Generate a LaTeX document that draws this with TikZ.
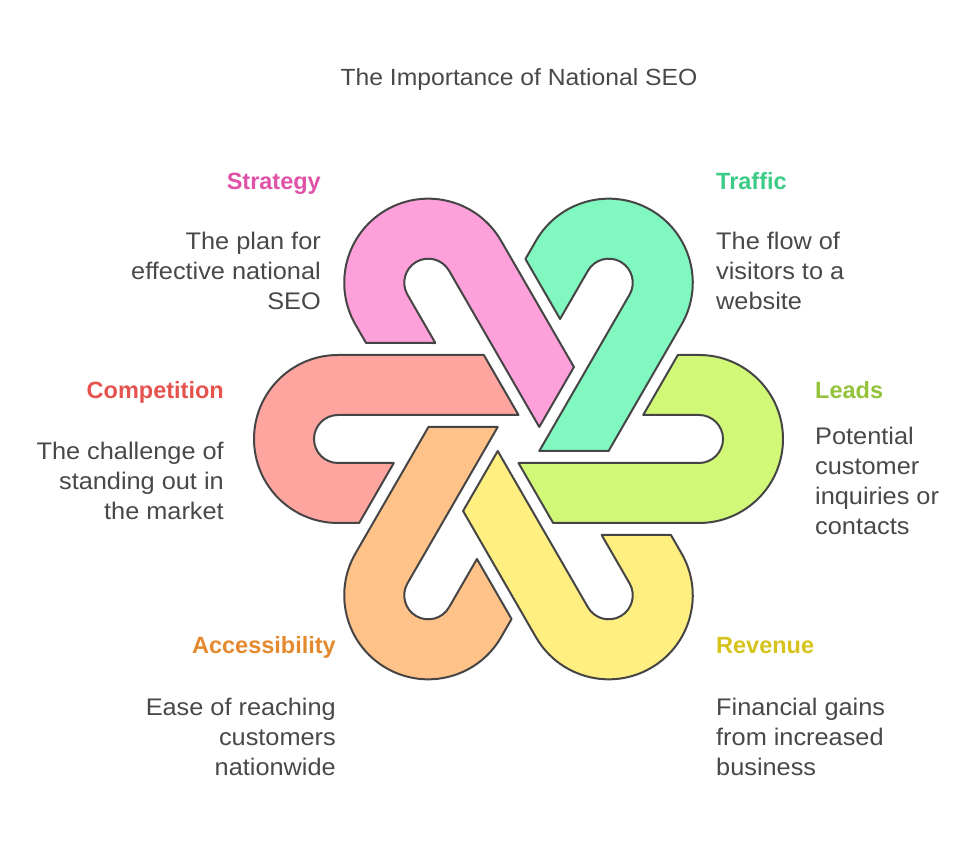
\documentclass[tikz,border=0pt]{standalone}
\usepackage{fontspec}
\setmainfont{Liberation Sans}
\newfontfamily\bodyfont[FakeStretch=1.055]{Liberation Sans}
\definecolor{edgegray}{HTML}{454545}
\definecolor{txtgray}{HTML}{484848}
\definecolor{pinkF}{HTML}{FEA0DA}
\definecolor{tealF}{HTML}{80F8C0}
\definecolor{redF}{HTML}{FFA5A0}
\definecolor{limeF}{HTML}{D2F878}
\definecolor{yellowF}{HTML}{FFEE80}
\definecolor{orangeF}{HTML}{FFC288}
\definecolor{pinkT}{HTML}{E052A8}
\definecolor{tealT}{HTML}{3CCB86}
\definecolor{redT}{HTML}{E5534F}
\definecolor{limeT}{HTML}{94C33B}
\definecolor{orangeT}{HTML}{E5892F}
\definecolor{yellowT}{HTML}{D6C41C}
\begin{document}
\begin{tikzpicture}[x=1pt,y=1pt,
  hook/.style={draw=edgegray, line width=2pt, line join=round},
  hookshape/.pic={
    \path[hook, pic actions] (-34.64,84) -- (-180.5,84)
      arc[start angle=90, end angle=270, radius=84]
      -- (-159.35,-84) -- (-124.7,-24) -- (-180.5,-24)
      arc[start angle=270, end angle=90, radius=24]
      -- (0,24) -- cycle;
  },
  ttl/.style={font=\bodyfont\fontsize{23.4}{30}\selectfont, text=txtgray, inner sep=0},
  head/.style={font=\bfseries\fontsize{23.5}{30}\selectfont, inner sep=0},
  body/.style={font=\bodyfont\fontsize{24}{30}\selectfont, text=txtgray, inner sep=0},
]
\useasboundingbox (0,0) rectangle (979,843);
\coordinate (C) at (518.5,404);

% interlocking hooks
\pic (hkred)    at (C) [fill=redF] {hookshape};
\pic (hkpink)   at (C) [fill=pinkF, rotate=-60] {hookshape};
\pic (hkteal)   at (C) [fill=tealF, rotate=-120] {hookshape};
\pic (hklime)   at (C) [fill=limeF, rotate=180] {hookshape};
\pic (hkyellow) at (C) [fill=yellowF, rotate=120] {hookshape};
\pic (hkorange) at (C) [fill=orangeF, rotate=60] {hookshape};

% title
\node[ttl, anchor=base] (title) at (519,757) {The Importance of National SEO};

% Strategy
\node[head, text=pinkT, anchor=base east] (sH) at (321,653) {Strategy};
\node[body, anchor=base east] (s1) at (321,593) {The plan for};
\node[body, anchor=base east] (s2) at (321,563) {effective national};
\node[body, anchor=base east] (s3) at (321,533) {SEO};

% Traffic
\node[head, text=tealT, anchor=base west] (tH) at (716,653) {Traffic};
\node[body, anchor=base west] (t1) at (716,593) {The flow of};
\node[body, anchor=base west] (t2) at (716,563) {visitors to a};
\node[body, anchor=base west] (t3) at (716,533) {website};

% Competition
\node[head, text=redT, anchor=base east] (cH) at (224,444) {Competition};
\node[body, anchor=base east] (c1) at (224,383) {The challenge of};
\node[body, anchor=base east] (c2) at (224,353) {standing out in};
\node[body, anchor=base east] (c3) at (224,323) {the market};

% Leads
\node[head, text=limeT, anchor=base west] (lH) at (815,444) {Leads};
\node[body, anchor=base west] (l1) at (815,398) {Potential};
\node[body, anchor=base west] (l2) at (815,368) {customer};
\node[body, anchor=base west] (l3) at (815,338) {inquiries or};
\node[body, anchor=base west] (l4) at (815,308) {contacts};

% Accessibility
\node[head, text=orangeT, anchor=base east] (aH) at (336,189) {Accessibility};
\node[body, anchor=base east] (a1) at (336,128) {Ease of reaching};
\node[body, anchor=base east] (a2) at (336,98) {customers};
\node[body, anchor=base east] (a3) at (336,68) {nationwide};

% Revenue
\node[head, text=yellowT, anchor=base west] (rH) at (716,189) {Revenue};
\node[body, anchor=base west] (r1) at (716,128) {Financial gains};
\node[body, anchor=base west] (r2) at (716,98) {from increased};
\node[body, anchor=base west] (r3) at (716,68) {business};
\end{tikzpicture}
\end{document}
